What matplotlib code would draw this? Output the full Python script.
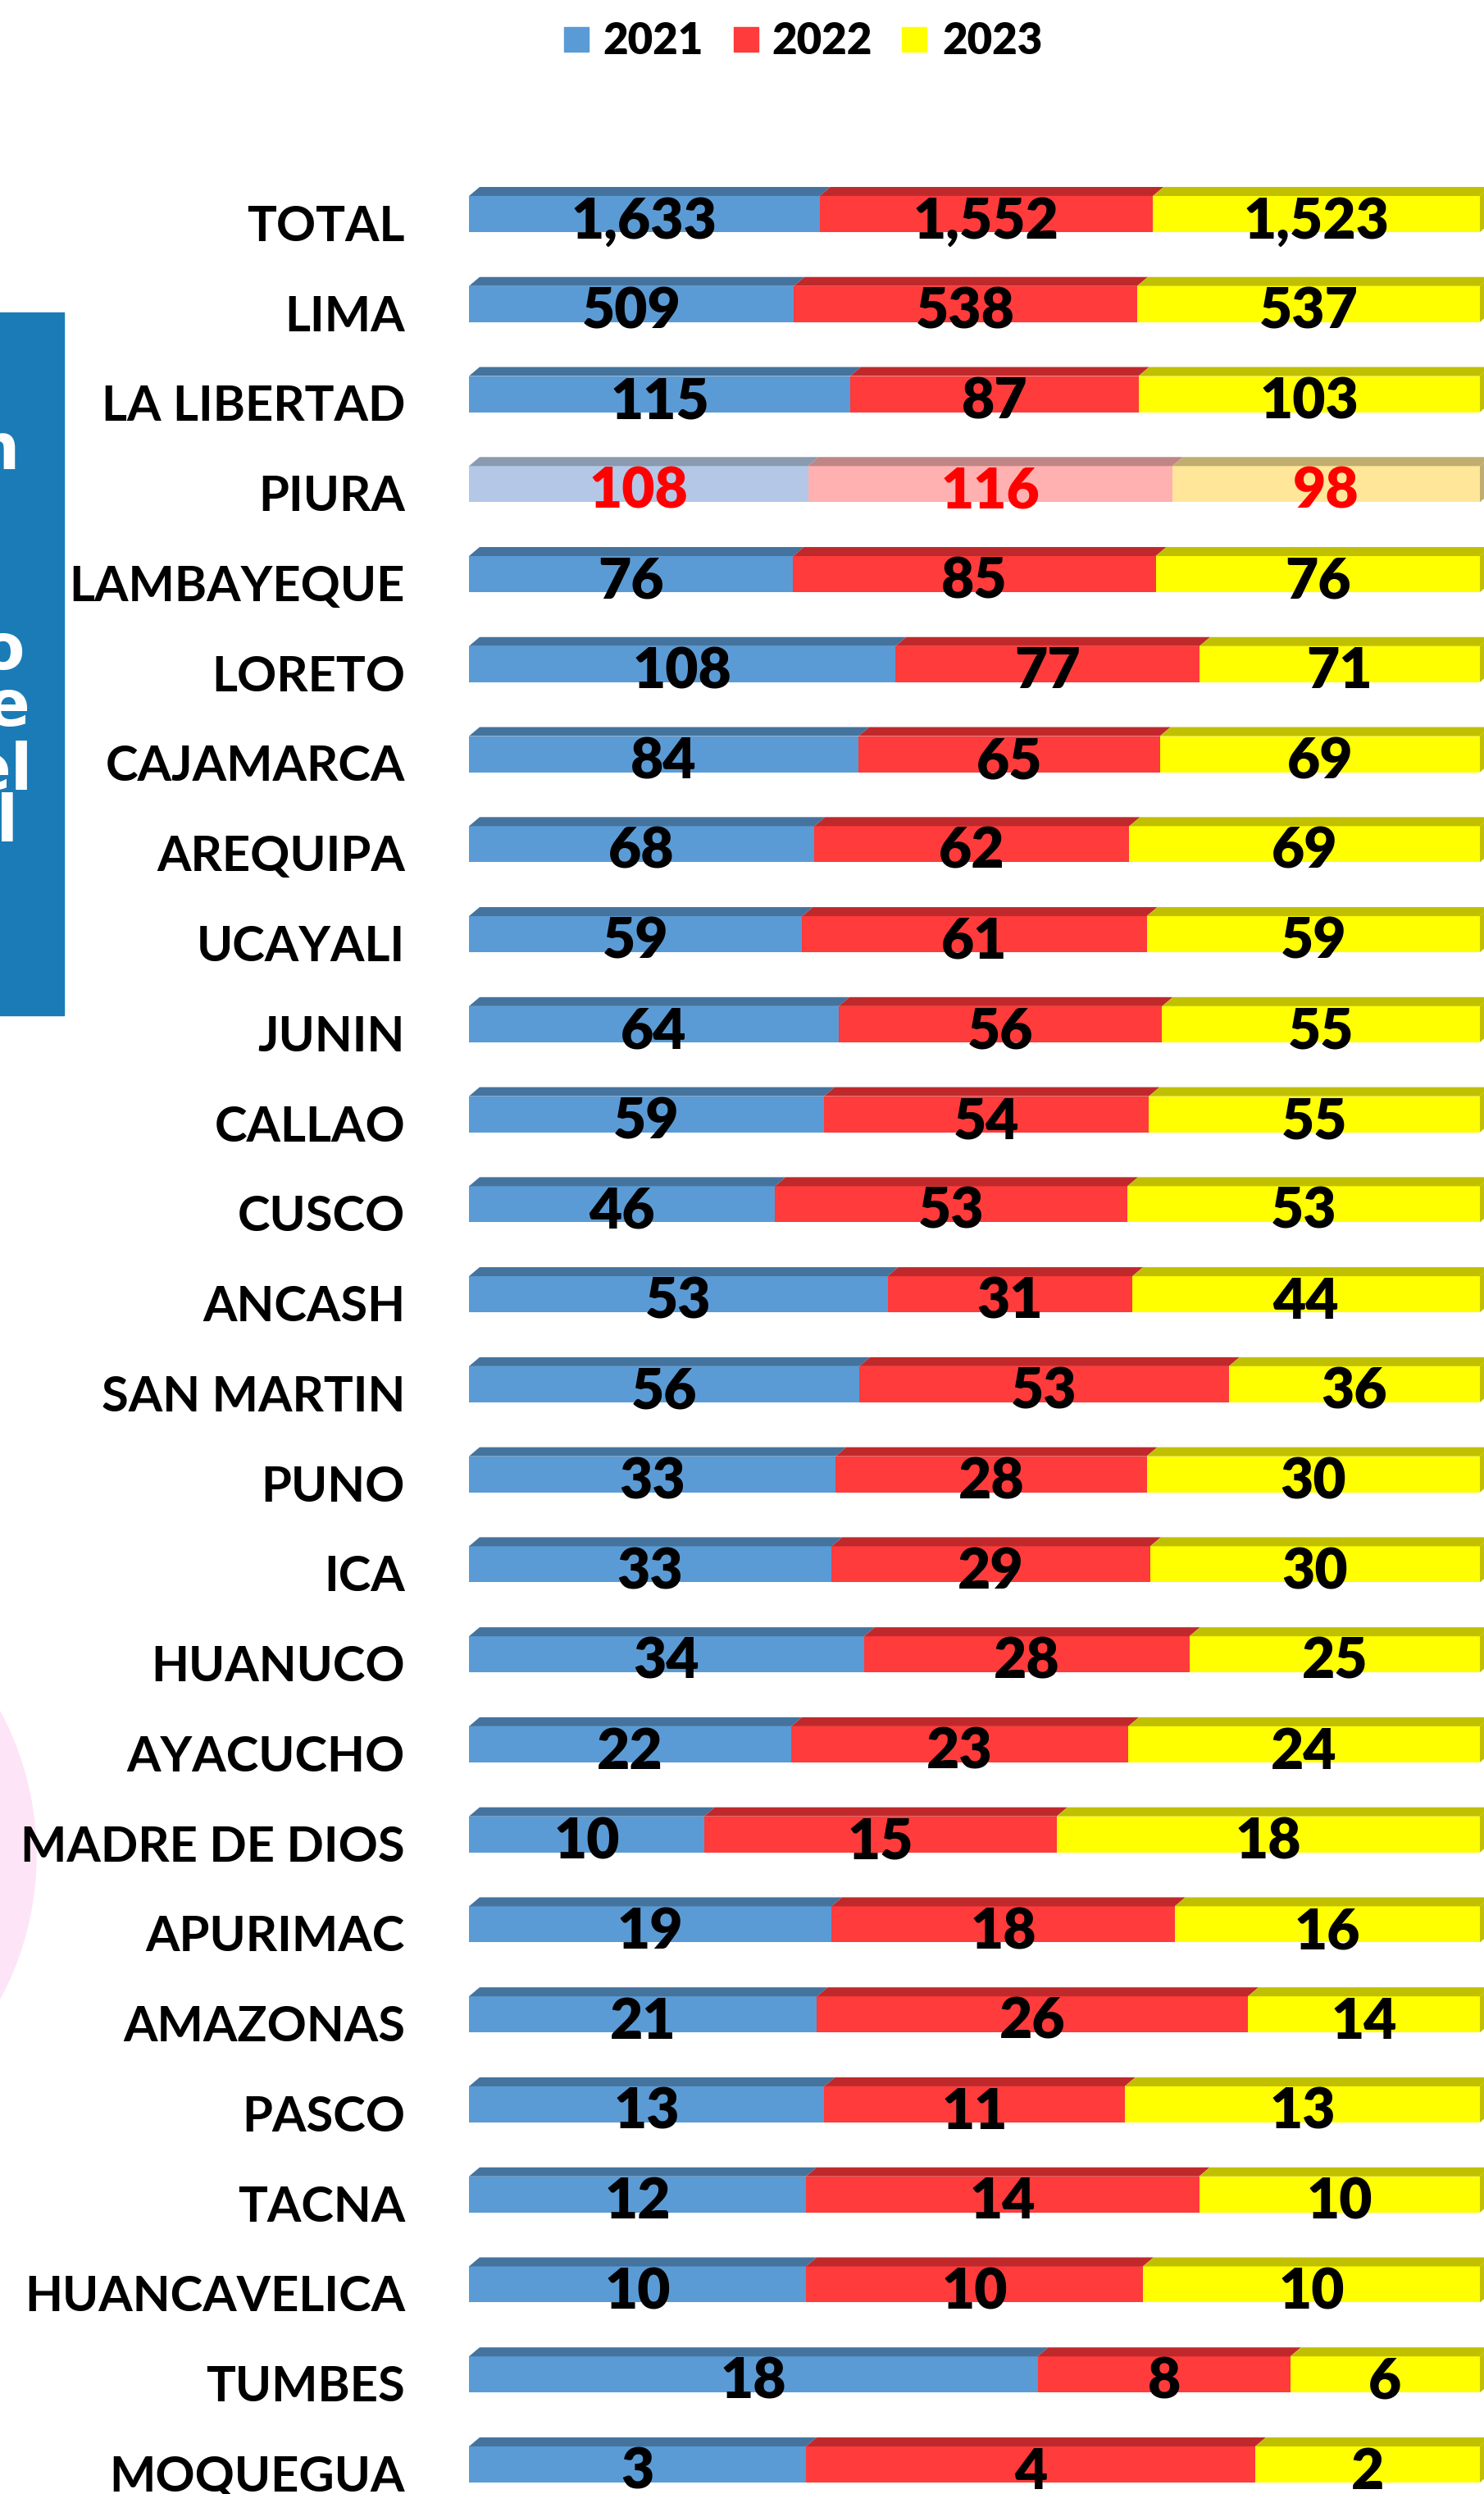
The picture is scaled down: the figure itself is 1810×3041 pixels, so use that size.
import numpy as np
import matplotlib.pyplot as plt
from matplotlib.patches import Polygon, Circle, Rectangle

regions = ['TOTAL', 'LIMA', 'LA LIBERTAD', 'PIURA', 'LAMBAYEQUE', 'LORETO',
           'CAJAMARCA', 'AREQUIPA', 'UCAYALI', 'JUNIN', 'CALLAO', 'CUSCO',
           'ANCASH', 'SAN MARTIN', 'PUNO', 'ICA', 'HUANUCO', 'AYACUCHO',
           'MADRE DE DIOS', 'APURIMAC', 'AMAZONAS', 'PASCO', 'TACNA',
           'HUANCAVELICA', 'TUMBES', 'MOQUEGUA']
v2021 = [1633, 509, 115, 108, 76, 108, 84, 68, 59, 64, 59, 46, 53, 56, 33, 33,
         34, 22, 10, 19, 21, 13, 12, 10, 18, 3]
v2022 = [1552, 538, 87, 116, 85, 77, 65, 62, 61, 56, 54, 53, 31, 53, 28, 29,
         28, 23, 15, 18, 26, 11, 14, 10, 8, 4]
v2023 = [1523, 537, 103, 98, 76, 71, 69, 69, 59, 55, 55, 53, 44, 36, 30, 30,
         25, 24, 18, 16, 14, 13, 10, 10, 6, 2]
years = ['2021', '2022', '2023']
highlight = 'PIURA'

front = ['#5B9BD5', '#FF3B3B', '#FFFF00']
top = ['#44739E', '#C0292B', '#C0C000']
front_hl = ['#B4C7E7', '#FFB1B1', '#FFE699']
top_hl = ['#8A9BB0', '#C08585', '#C0AE70']

W, H = 1810, 3041
plt.rcParams['font.family'] = ['Lato', 'DejaVu Sans']
fig = plt.figure(figsize=(W / 100, H / 100), dpi=100)

# left decorations (cut by the image edge), kept behind the chart
fig.patches.append(Circle((-3.26, (H - 2262) / 100), 3.70, color='#FDE5F7',
                          transform=fig.dpi_scale_trans, zorder=-2))
fig.patches.append(Rectangle((0, 1 - 1238 / H), 78 / W, (1238 - 381) / H,
                             color='#1A7BB7', transform=fig.transFigure, zorder=-1))
for txt, xr, yb in [('n', 24, 572), ('o', 30, 816), ('e', 36, 885),
                    ('el', 40, 963), ('al', 23, 1026)]:
    fig.text(xr / W, 1 - yb / H, txt, color='white', fontsize=56,
             fontweight='heavy', family=['DejaVu Sans'], ha='right', va='baseline')

pitch = 109.76
ax = fig.add_axes([572 / W, 0, (1805 - 572) / W, (H - 206.1) / H])
ax.set_xlim(0, 1)
ax.set_ylim(25 + (H - 3005) / pitch, -0.5)
ax.axis('off')

h = 44 / pitch
dx = 13 / 1233
dy = 11 / pitch

data = np.array([v2021, v2022, v2023], dtype=float)
share = data / data.sum(axis=0)
left = np.vstack([np.zeros(len(regions)), np.cumsum(share, axis=0)[:-1]])
y = np.arange(len(regions))

for k in range(3):
    fc = [front_hl[k] if r == highlight else front[k] for r in regions]
    ax.barh(y, share[k], left=left[k], height=h, color=fc, linewidth=0, zorder=2)
    for i, r in enumerate(regions):
        x0 = left[k][i]
        x1 = x0 + share[k][i]
        yt = i - h / 2
        tc = top_hl[k] if r == highlight else top[k]
        ax.add_patch(Polygon([(x0, yt), (x1, yt), (x1 + dx, yt - dy), (x0 + dx, yt - dy)],
                             closed=True, color=tc, lw=0, zorder=2, clip_on=False))
        if k == 2:
            ax.add_patch(Polygon([(x1, yt), (x1 + dx, yt - dy), (x1 + dx, yt + h - dy), (x1, yt + h)],
                                 closed=True, color=tc, lw=0, zorder=2, clip_on=False))
        lc = 'red' if r == highlight else 'black'
        ax.text((x0 + x1) / 2, i + 0.27, f'{int(data[k][i]):,}', ha='center',
                va='baseline', fontsize=50, fontweight='heavy', color=lc, zorder=3)

for i, r in enumerate(regions):
    ax.text(-78 / 1233, i + 0.30, r, ha='right', va='baseline', fontsize=43,
            fontweight='bold', color='black', clip_on=False)

# legend: colour squares and year labels
for k, (sx, tx) in enumerate([(688, 735), (895, 941), (1100, 1149)]):
    fig.patches.append(Rectangle((sx / W, 1 - 63 / H), 30 / W, 30 / H, color=front[k],
                                 transform=fig.transFigure))
    fig.text(tx / W, 1 - 66 / H, years[k], fontsize=38, fontweight='heavy',
             ha='left', va='baseline')

fig.savefig('out.png', dpi=100, facecolor='white')
